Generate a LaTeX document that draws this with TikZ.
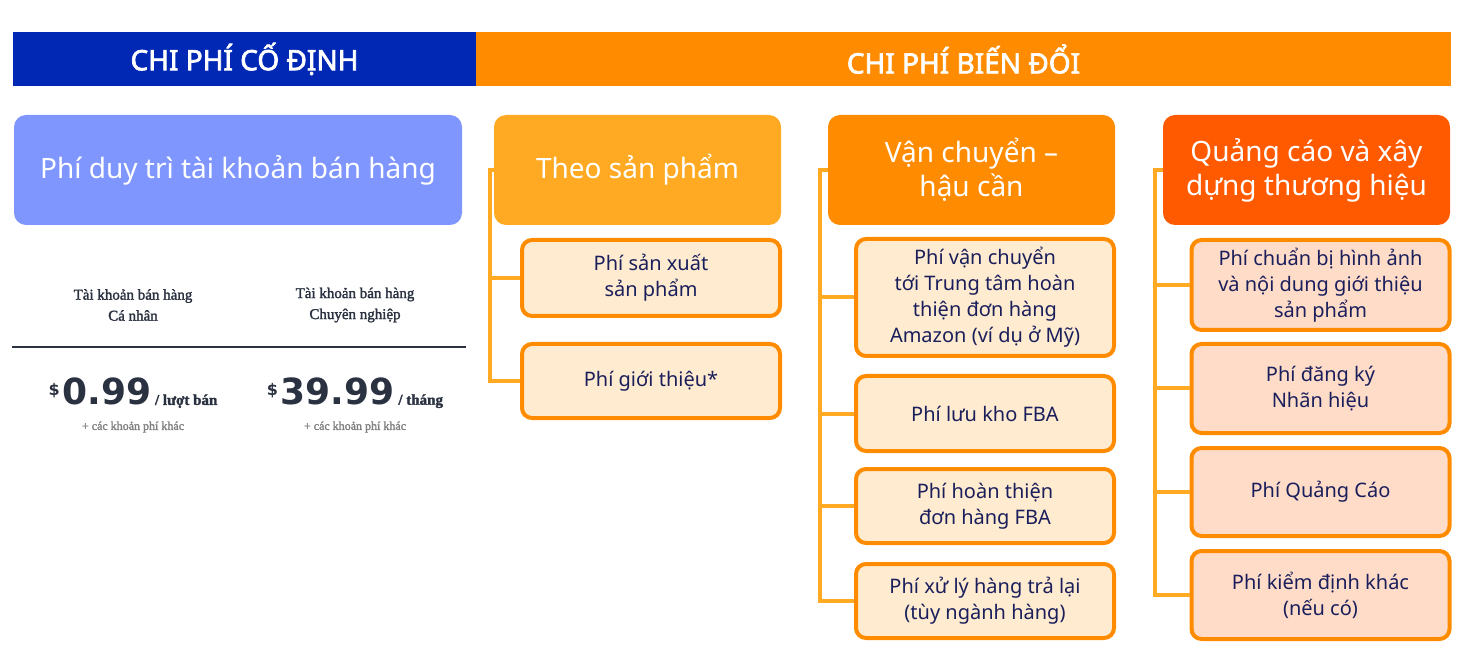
\documentclass[tikz,border=0pt]{standalone}
\usepackage{fontspec}
\setmainfont{Noto Sans}
\newfontfamily\barfont[FakeBold=2.5]{Noto Sans}
\newfontfamily\serifbold[FakeBold=1.8]{Liberation Serif}
\newfontfamily\serifplain{Liberation Serif}
\newfontfamily\pricefont{DejaVu Sans}
\usetikzlibrary{positioning}
\definecolor{navy}{HTML}{0028B4}
\definecolor{orangebar}{HTML}{FF8C00}
\definecolor{lavender}{HTML}{7F96FF}
\definecolor{amber}{HTML}{FFAA22}
\definecolor{redorange}{HTML}{FF5A00}
\definecolor{cream}{HTML}{FFEBD0}
\definecolor{peach}{HTML}{FFDCC8}
\definecolor{inktext}{HTML}{1A1F5C}
\definecolor{slate}{HTML}{2A3140}
\tikzset{
  bar/.style={inner sep=0pt,text=white,font=\barfont\fontsize{14}{16}\selectfont},
  head box/.style={rounded corners=6pt,minimum width=143.5pt,minimum height=55pt,
    text=white,align=center,font=\fontsize{14}{17}\selectfont},
  sub box/.style={rounded corners=5pt,draw=orangebar,line width=2pt,minimum width=129pt,
    text=inktext,align=center,font=\fontsize{10}{13}\selectfont},
  link/.style={draw=amber,line width=2pt},
  acct/.style={text=slate,align=center,font=\serifbold\fontsize{7.5}{10.5}\selectfont},
  note/.style={text=gray,font=\serifbold\fontsize{6}{7}\selectfont}
}
\begin{document}
\begin{tikzpicture}[x=0.5pt,y=-0.5pt]
  \useasboundingbox (0,0) rectangle (1468,652);
  % top bars
  \fill[navy] (13,32) rectangle (476,86);
  \fill[orangebar] (476,32) rectangle (1451,86);
  \node[bar] (fixed) at (244.5,59) {CHI PHÍ CỐ ĐỊNH};
  \node[bar] (variable) at (963.5,59) {CHI PHÍ BIẾN ĐỔI};
  % fixed cost
  \node[head box,fill=lavender,minimum width=224pt] (acc) at (238,170) {Phí duy trì tài khoản bán hàng};
  \node[acct] (ind) at (133,305) {Tài khoản bán hàng\\Cá nhân};
  \node[acct] (pro) at (355,305) {Tài khoản bán hàng\\Chuyên nghiệp};
  \draw[slate,line width=1pt] (12,347) -- (466,347);
  \node[text=slate] (p1) at (133,393) {\pricefont\bfseries{\fontsize{8}{8}\selectfont\raisebox{1.1ex}{\$}\,}\fontsize{18}{20}\selectfont 0.99{\serifbold\fontsize{7.5}{8}\selectfont\ / lượt bán}};
  \node[text=slate] (p2) at (355,393) {\pricefont\bfseries{\fontsize{8}{8}\selectfont\raisebox{1.1ex}{\$}\,}\fontsize{18}{20}\selectfont 39.99{\serifbold\fontsize{7.5}{8}\selectfont\ / tháng}};
  \node[note] (n1) at (133,427) {+ các khoản phí khác};
  \node[note] (n2) at (355,427) {+ các khoản phí khác};
  % column 1
  \node[head box,fill=amber] (t1) at (637.5,170) {Theo sản phẩm};
  \node[sub box,fill=cream,minimum height=38pt] (s11) at (651,278) {Phí sản xuất\\sản phẩm};
  \node[sub box,fill=cream,minimum height=37pt] (s12) at (651,381) {Phí giới thiệu*};
  % column 2
  \node[head box,fill=orangebar] (t2) at (971.5,170) {Vận chuyển –\\hậu cần};
  \node[sub box,fill=cream,minimum height=58.5pt] (s21) at (985,297.5) {Phí vận chuyển\\tới Trung tâm hoàn\\thiện đơn hàng\\Amazon (ví dụ ở Mỹ)};
  \node[sub box,fill=cream,minimum height=37.5pt] (s22) at (985,413.5) {Phí lưu kho FBA};
  \node[sub box,fill=cream,minimum height=37pt] (s23) at (985,506) {Phí hoàn thiện\\đơn hàng FBA};
  \node[sub box,fill=cream,minimum height=37pt] (s24) at (985,601) {Phí xử lý hàng trả lại\\(tùy ngành hàng)};
  % column 3
  \node[head box,fill=redorange] (t3) at (1306.5,170) {Quảng cáo và xây\\dựng thương hiệu};
  \node[sub box,fill=peach,minimum height=45pt] (s31) at (1320.5,285) {Phí chuẩn bị hình ảnh\\và nội dung giới thiệu\\sản phẩm};
  \node[sub box,fill=peach,minimum height=44.5pt] (s32) at (1320.5,388.5) {Phí đăng ký\\Nhãn hiệu};
  \node[sub box,fill=peach,minimum height=44pt] (s33) at (1320.5,492) {Phí Quảng Cáo};
  \node[sub box,fill=peach,minimum height=44pt] (s34) at (1320.5,595) {Phí kiểm định khác\\(nếu có)};
  % connectors
  \draw[link] (t1.west) -- ++(-4,0) coordinate (b1) |- (s12.west);
  \draw[link] (b1 |- s11.west) -- (s11.west);
  \draw[link] (t2.west) -- ++(-8,0) coordinate (b2) |- (s24.west);
  \foreach \s in {s21,s22,s23} \draw[link] (b2 |- \s.west) -- (\s.west);
  \draw[link] (t3.west) -- ++(-8,0) coordinate (b3) |- (s34.west);
  \foreach \s in {s31,s32,s33} \draw[link] (b3 |- \s.west) -- (\s.west);
\end{tikzpicture}
\end{document}
